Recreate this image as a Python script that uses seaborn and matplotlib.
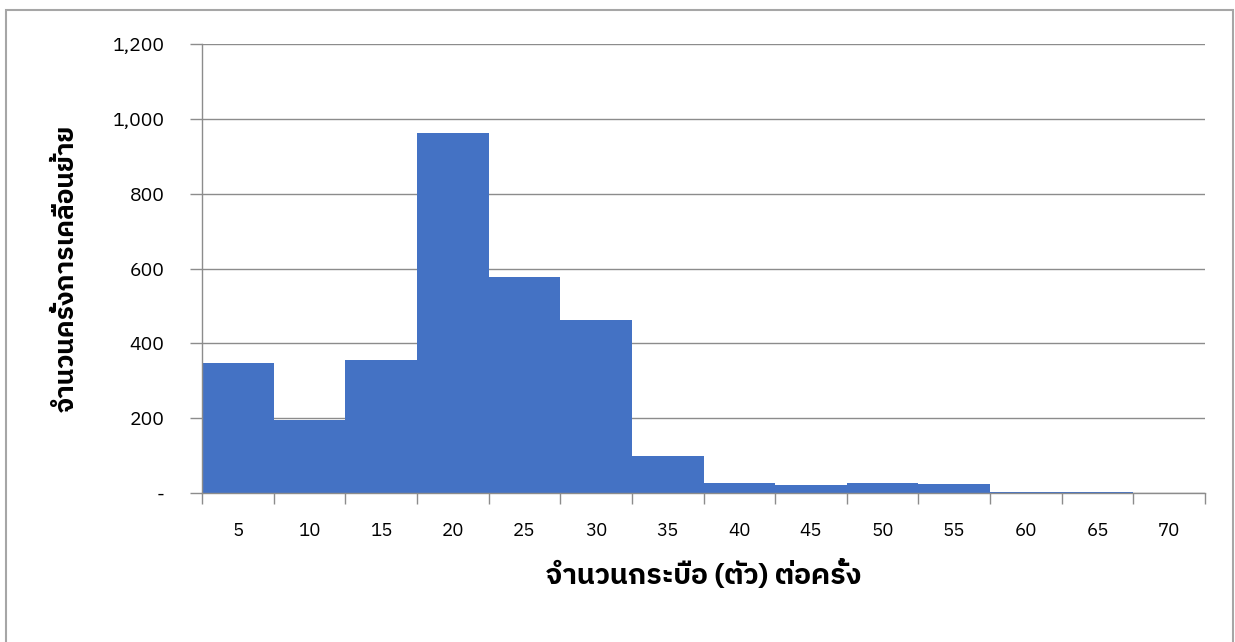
import matplotlib
matplotlib.use("Agg")
import matplotlib.pyplot as plt
from matplotlib import font_manager
from matplotlib.patches import Rectangle
import seaborn as sns
import pandas as pd

# Herd-size bins (buffalo per movement) and number of movements in each bin
bins = ["5", "10", "15", "20", "25", "30", "35", "40", "45", "50", "55", "60", "65", "70"]
movements = [347, 195, 356, 961, 578, 462, 99, 26, 21, 26, 25, 4, 2, 0]

y_ticks = [0, 200, 400, 600, 800, 1000, 1200]
y_tick_labels = ["-", "200", "400", "600", "800", "1,000", "1,200"]

x_title = "จำนวนกระบือ (ตัว) ต่อครั้ง"
y_title = "จำนวนครั้งการเคลื่อนย้าย"

BAR = "#4472C4"
GRID = "#8c8c8c"


def thai_family():
    """Pick an installed family that carries Thai glyphs."""
    try:
        from fontTools.ttLib import TTFont
    except Exception:
        return None
    found = []
    for fe in font_manager.fontManager.ttflist:
        try:
            f = TTFont(fe.fname, fontNumber=0, lazy=True)
            cmap = f.getBestCmap()
            if cmap and 0x0E08 in cmap and 0x0E33 in cmap:
                found.append(fe.name)
        except Exception:
            continue
    if not found:
        return None
    found.sort(key=lambda n: (0 if "Thai" in n else 1, n))
    return found[0]


sns.set_theme(style="white")
fam = thai_family()
families = ([fam] if fam else []) + ["DejaVu Sans"]
plt.rcParams["font.family"] = families

df = pd.DataFrame({"bin": bins, "count": movements})

fig = plt.figure(figsize=(12.35, 6.42), dpi=100)
W, H = 1235, 642
ax = fig.add_axes([202 / W, 1 - 493 / H, (1205 - 202) / W, (493 - 44) / H])

sns.barplot(data=df, x="bin", y="count", order=bins, color=BAR,
            saturation=1, width=1.0, edgecolor="none", linewidth=0, ax=ax)

ax.set_xlim(-0.5, len(bins) - 0.5)
ax.set_ylim(0, 1200)

# horizontal gridlines
ax.set_axisbelow(True)
ax.yaxis.grid(True, color=GRID, linewidth=1.0)
ax.xaxis.grid(False)

ax.set_yticks(y_ticks)
ax.set_yticklabels(y_tick_labels)
ax.tick_params(axis="y", which="major", direction="out", length=9, width=1,
               color=GRID, pad=18, labelsize=14, labelcolor="black", left=True)

# category labels centred, tick marks on category boundaries
ax.set_xticks(range(len(bins)))
ax.set_xticklabels(bins)
ax.tick_params(axis="x", which="major", length=0, pad=21, labelsize=13.5,
               labelcolor="black")
ax.set_xticks([i - 0.5 for i in range(len(bins) + 1)], minor=True)
ax.tick_params(axis="x", which="minor", direction="out", length=8, width=1,
               color=GRID, bottom=True)

for side in ("top", "right"):
    ax.spines[side].set_visible(False)
for side in ("left", "bottom"):
    ax.spines[side].set_color(GRID)
    ax.spines[side].set_linewidth(1.0)

ax.set_xlabel(x_title, fontsize=20.5, fontweight="bold")
ax.set_ylabel(y_title, fontsize=19, fontweight="bold")
ax.xaxis.label.set_color("black")
ax.yaxis.label.set_color("black")
ax.xaxis.set_label_coords(0.5, -(560 - 493) / (493 - 44))
ax.yaxis.set_label_coords(-(202 - 79) / (1205 - 202), 0.5)

# outer chart frame
fig.patches.append(Rectangle((6 / W, -0.05), (1233 - 6) / W, 1.05 - 10 / H,
                             transform=fig.transFigure, fill=False,
                             edgecolor="#a6a6a6", linewidth=1.5))

fig.savefig("out.png", dpi=100, facecolor="white")
